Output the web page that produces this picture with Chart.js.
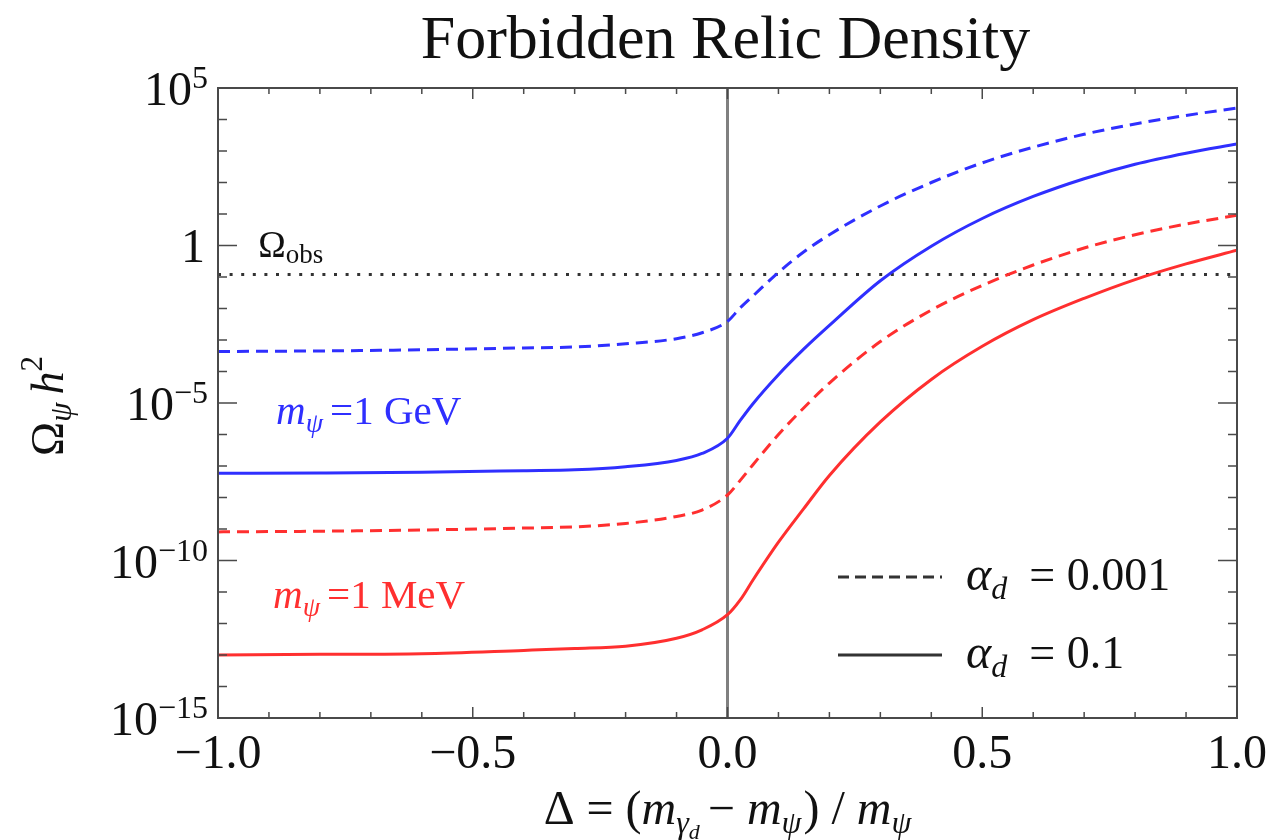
<!DOCTYPE html>
<html>
<head>
<meta charset="utf-8">
<script src="https://cdn.jsdelivr.net/npm/chart.js@4.4.0/dist/chart.umd.min.js"></script>
<style>
  html, body { margin: 0; padding: 0; background: #fff; }
  #chart { display: block; }
</style>
</head>
<body>
<canvas id="chart" width="1281" height="840"></canvas>
<script>
const deltaValues = [-1, -0.8, -0.6, -0.4, -0.3, -0.2, -0.1, -0.05, 0, 0.025, 0.05, 0.1, 0.15, 0.2, 0.3, 0.4, 0.5, 0.6, 0.7, 0.8, 0.9, 1.0]

// Omega h^2 for m = 1 GeV
const gevAlpha001 = [4.3e-4, 4.5e-4, 4.9e-4, 5.6e-4, 6.0e-4, 7.6e-4, 1.1e-3, 1.7e-3, 3.9e-3, 1.05e-2, 2.5e-2, 0.14, 0.63, 2.2, 18, 100, 420, 1320, 3400, 7200, 1.35e4, 2.3e4]
const gevAlpha01 = [5.9e-8, 6.0e-8, 6.3e-8, 7.1e-8, 7.6e-8, 9.5e-8, 1.5e-7, 2.5e-7, 7.6e-7, 2.8e-6, 9.5e-6, 7.9e-5, 5.2e-4, 2.9e-3, 0.076, 0.95, 7.2, 36, 132, 380, 850, 1660]

// Omega h^2 for m = 1 MeV
const mevAlpha001 = [8.1e-10, 8.5e-10, 9.3e-10, 1.07e-9, 1.17e-9, 1.5e-9, 2.5e-9, 4.0e-9, 1.2e-8, 3.5e-8, 1.1e-7, 1.0e-6, 7.1e-6, 4.3e-5, 8.9e-4, 8.9e-3, 0.054, 0.24, 0.83, 2.2, 4.8, 9.1]
const mevAlpha01 = [1.0e-13, 1.05e-13, 1.1e-13, 1.4e-13, 1.6e-13, 1.9e-13, 3.4e-13, 6.3e-13, 1.9e-12, 5.6e-12, 2.4e-11, 3.8e-10, 4.5e-9, 5.0e-8, 2.5e-6, 5.6e-5, 6.3e-4, 4.4e-3, 0.021, 0.083, 0.26, 0.71]

const omegaObs = 0.12

const xTickLabels = [-1, -0.5, 0, 0.5, 1]
const yTickExponents = [5, 0, -5, -10, -15]

const BLUE = '#2f2fff'
const RED = '#ff2f2f'
const SERIF = '"Liberation Serif", "Times New Roman", serif'

function toPoints(values) {
  return values.map((v, i) => ({ x: deltaValues[i], y: v }))
}

function font(size, italic) {
  return (italic ? 'italic ' : '') + size + 'px ' + SERIF
}

// draw a row of text runs (for sub/superscripts)
function drawRuns(ctx, runs, x, y, align) {
  let total = 0
  runs.forEach(r => {
    ctx.font = r.font
    total += ctx.measureText(r.text).width + (r.dx || 0)
  })
  if (align === 'center') x -= total / 2
  if (align === 'right') x -= total
  runs.forEach(r => {
    ctx.font = r.font
    ctx.fillStyle = r.color || '#111'
    ctx.fillText(r.text, x, y + (r.dy || 0))
    x += ctx.measureText(r.text).width + (r.dx || 0)
  })
}

const zeroLine = {
  id: 'zeroLine',
  beforeDatasetsDraw(chart) {
    const { ctx, chartArea, scales } = chart
    const x = scales.x.getPixelForValue(0)
    ctx.save()
    ctx.strokeStyle = '#808080'
    ctx.lineWidth = 3
    ctx.beginPath()
    ctx.moveTo(x, chartArea.top)
    ctx.lineTo(x, chartArea.bottom)
    ctx.stroke()
    ctx.restore()
  }
}

const frameAndTicks = {
  id: 'frameAndTicks',
  afterDatasetsDraw(chart) {
    const { ctx, chartArea: a, scales } = chart
    ctx.save()
    ctx.strokeStyle = '#4a4a4a'
    ctx.lineWidth = 2
    ctx.strokeRect(a.left, a.top, a.right - a.left, a.bottom - a.top)

    ctx.lineWidth = 1.5
    ctx.beginPath()
    // x ticks every 0.1, longer at 0.5
    for (let i = -10; i <= 10; i++) {
      const x = scales.x.getPixelForValue(i / 10)
      const len = i % 5 === 0 ? 11 : 6
      ctx.moveTo(x, a.bottom); ctx.lineTo(x, a.bottom - len)
      ctx.moveTo(x, a.top); ctx.lineTo(x, a.top + len)
    }
    // y ticks every decade, longer every 5
    for (let e = -15; e <= 5; e++) {
      const y = scales.y.getPixelForValue(Math.pow(10, e))
      const len = e % 5 === 0 ? 19 : 9
      ctx.moveTo(a.left, y); ctx.lineTo(a.left + len, y)
      ctx.moveTo(a.right, y); ctx.lineTo(a.right - len, y)
    }
    ctx.stroke()
    ctx.restore()
  },
  afterDraw(chart) {
    const { ctx, chartArea: a, scales } = chart
    const xs = scales.x, ys = scales.y
    ctx.save()
    ctx.textBaseline = 'alphabetic'

    // title, centred on the plot frame
    drawRuns(ctx, [{ text: 'Forbidden Relic Density', font: font(62) }], (a.left + a.right) / 2 - 2, 58, 'center')

    // y tick labels with superscripts
    yTickExponents.forEach(e => {
      const y = ys.getPixelForValue(Math.pow(10, e))
      if (e === 0) {
        drawRuns(ctx, [{ text: '1', font: font(48) }], a.left - 13, y + 16, 'right')
      } else {
        const exp = e < 0 ? '\u2212' + (-e) : String(e)
        drawRuns(ctx, [
          { text: '10', font: font(48) },
          { text: exp, font: font(32), dy: -17 }
        ], a.left - 10, y + 17, 'right')
      }
    })

    // y axis title
    ctx.save()
    ctx.translate(63, 406)
    ctx.rotate(-Math.PI / 2)
    drawRuns(ctx, [
      { text: '\u03A9', font: font(46) },
      { text: '\u03C8', font: font(31, true), dy: 8, dx: 8 },
      { text: 'h', font: font(46, true) },
      { text: '2', font: font(31), dy: -21 }
    ], 0, 0, 'center')
    ctx.restore()

    // x axis title
    drawRuns(ctx, [
      { text: '\u0394 = (', font: font(48) },
      { text: 'm', font: font(48, true) },
      { text: '\u03B3', font: font(32, true), dy: 9 },
      { text: 'd', font: font(22, true), dy: 15, dx: 8 },
      { text: '\u2212 ', font: font(48) },
      { text: 'm', font: font(48, true) },
      { text: '\u03C8', font: font(32, true), dy: 9, dx: 2 },
      { text: ') / ', font: font(48) },
      { text: 'm', font: font(48, true) },
      { text: '\u03C8', font: font(32, true), dy: 9 }
    ], (a.left + a.right) / 2, 824, 'center')

    // Omega_obs label
    drawRuns(ctx, [
      { text: '\u03A9', font: font(37) },
      { text: 'obs', font: font(27), dy: 6 }
    ], xs.getPixelForValue(-0.921), ys.getPixelForValue(Math.pow(10, -0.37)), 'left')

    // mass labels
    drawRuns(ctx, [
      { text: 'm', font: font(41, true), color: BLUE },
      { text: '\u03C8', font: font(28, true), dy: 8, color: BLUE, dx: 7 },
      { text: '=1 GeV', font: font(41), color: BLUE }
    ], xs.getPixelForValue(-0.886), ys.getPixelForValue(Math.pow(10, -5.67)), 'left')
    drawRuns(ctx, [
      { text: 'm', font: font(41, true), color: RED },
      { text: '\u03C8', font: font(28, true), dy: 8, color: RED, dx: 7 },
      { text: '=1 MeV', font: font(41), color: RED }
    ], xs.getPixelForValue(-0.892), ys.getPixelForValue(Math.pow(10, -11.5)), 'left')

    // legend for the coupling
    const legendRows = [
      { label: '0.001', dash: [11, 6], y: 577 },
      { label: '0.1', dash: [], y: 655 }
    ]
    legendRows.forEach(row => {
      ctx.save()
      ctx.strokeStyle = '#333'
      ctx.lineWidth = 3
      ctx.setLineDash(row.dash)
      ctx.beginPath()
      ctx.moveTo(838, row.y)
      ctx.lineTo(942, row.y)
      ctx.stroke()
      ctx.restore()
      drawRuns(ctx, [
        { text: '\u03B1', font: font(48, true) },
        { text: 'd', font: font(32, true), dy: 9, dx: 22 },
        { text: '= ' + row.label, font: font(46) }
      ], 966, row.y + 13, 'left')
    })
    ctx.restore()
  }
}

const ctx = document.getElementById('chart')

new Chart(ctx, {
  type: 'line',
  data: {
    datasets: [
      {
        label: 'm = 1 GeV, alpha = 0.001',
        data: toPoints(gevAlpha001),
        borderColor: BLUE,
        borderWidth: 3,
        borderDash: [12, 7],
        pointRadius: 0,
        cubicInterpolationMode: 'monotone',
        fill: false
      },
      {
        label: 'm = 1 GeV, alpha = 0.1',
        data: toPoints(gevAlpha01),
        borderColor: BLUE,
        borderWidth: 3,
        pointRadius: 0,
        cubicInterpolationMode: 'monotone',
        fill: false
      },
      {
        label: 'm = 1 MeV, alpha = 0.001',
        data: toPoints(mevAlpha001),
        borderColor: RED,
        borderWidth: 3,
        borderDash: [12, 7],
        pointRadius: 0,
        cubicInterpolationMode: 'monotone',
        fill: false
      },
      {
        label: 'm = 1 MeV, alpha = 0.1',
        data: toPoints(mevAlpha01),
        borderColor: RED,
        borderWidth: 3,
        pointRadius: 0,
        cubicInterpolationMode: 'monotone',
        fill: false
      },
      {
        label: 'Omega obs',
        data: [{ x: -1, y: omegaObs }, { x: 1, y: omegaObs }],
        borderColor: '#333',
        borderWidth: 3,
        borderDash: [3, 8.6],
        pointRadius: 0,
        fill: false
      }
    ]
  },
  options: {
    responsive: false,
    animation: false,
    devicePixelRatio: 1,
    layout: {
      padding: { top: 88, right: 44, bottom: 0, left: 0 }
    },
    plugins: {
      legend: { display: false },
      tooltip: { enabled: false },
      title: { display: false }
    },
    scales: {
      x: {
        type: 'linear',
        min: -1,
        max: 1,
        grid: { display: false, drawTicks: false },
        border: { display: false },
        afterFit(scale) { scale.height = 122 },
        afterBuildTicks(scale) {
          scale.ticks = xTickLabels.map(v => ({ value: v }))
        },
        ticks: {
          color: '#111',
          padding: 9,
          maxRotation: 0,
          autoSkip: false,
          font: { family: SERIF, size: 48 },
          callback: function(value) {
            const s = Math.abs(value).toFixed(1)
            return value < 0 ? '\u2212' + s : s
          }
        }
      },
      y: {
        type: 'logarithmic',
        min: 1e-15,
        max: 1e5,
        grid: { display: false, drawTicks: false },
        border: { display: false },
        ticks: { display: false },
        afterFit(scale) { scale.width = 218 }
      }
    }
  },
  plugins: [zeroLine, frameAndTicks]
})
</script>
</body>
</html>
